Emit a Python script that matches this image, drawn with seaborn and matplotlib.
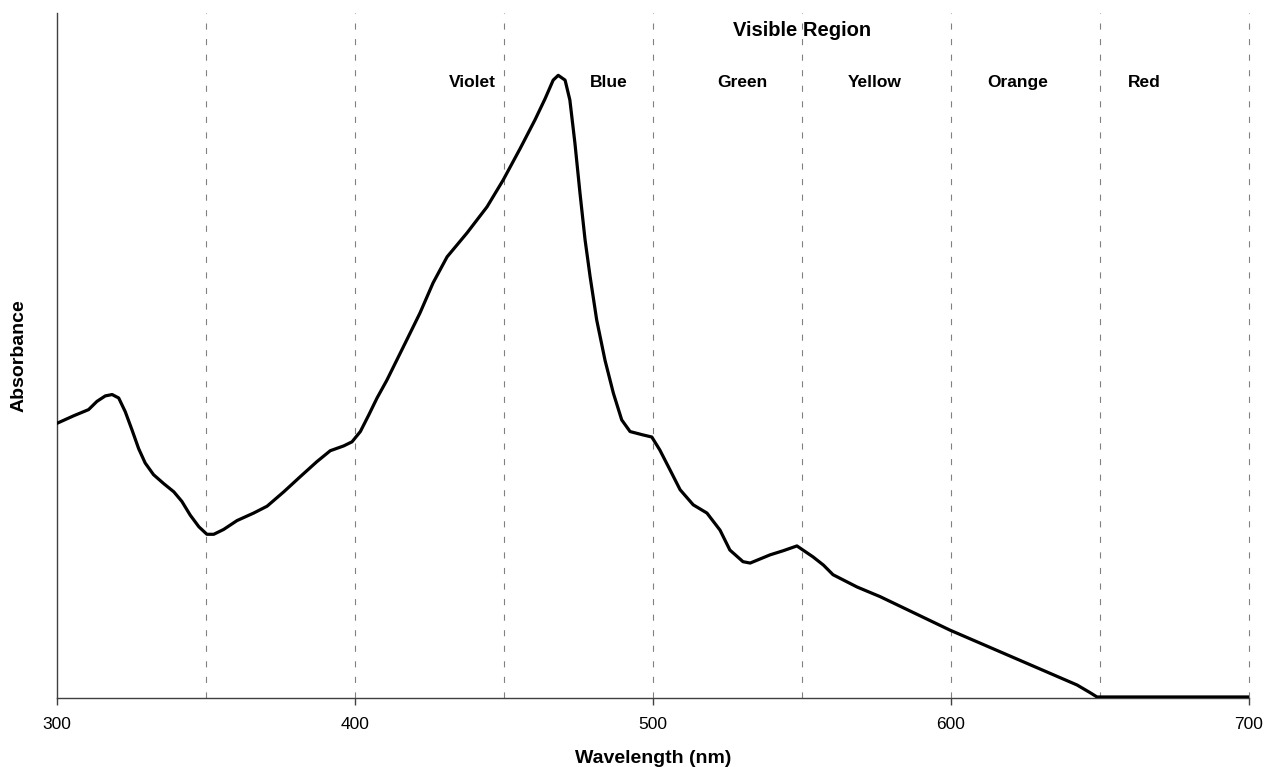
import matplotlib
matplotlib.use("Agg")
import matplotlib.pyplot as plt
import seaborn as sns
import pandas as pd

# Data (wavelength in nm, relative absorbance)
wavelength = [300.0, 305.6, 310.6, 313.4, 316.2, 318.5, 320.7, 322.9, 325.2, 327.4,
              329.6, 332.4, 335.8, 339.2, 341.9, 344.7, 347.6, 350.3, 352.6, 355.9,
              360.4, 366.0, 370.5, 376.1, 381.6, 387.2, 391.7, 396.2, 399.0, 401.8,
              404.6, 407.4, 410.7, 417.4, 421.8, 426.2, 430.9, 437.6, 444.3, 449.7,
              455.4, 460.4, 463.8, 466.5, 468.2, 470.5, 472.1, 473.8, 475.5, 477.2,
              478.9, 481.1, 483.9, 486.7, 489.5, 492.3, 496.7, 499.6, 502.3, 506.3,
              509.1, 513.5, 518.1, 522.5, 525.8, 530.2, 532.6, 539.3, 543.7, 548.3,
              553.7, 557.2, 560.4, 568.5, 576.2, 599.7, 642.3, 646.6, 649.0, 655.7,
              700.0]
absorbance = [0.401, 0.412, 0.421, 0.433, 0.441, 0.443, 0.438, 0.418, 0.391, 0.364,
              0.343, 0.326, 0.313, 0.301, 0.287, 0.267, 0.250, 0.239, 0.239, 0.246,
              0.259, 0.270, 0.280, 0.301, 0.323, 0.345, 0.361, 0.368, 0.374, 0.389,
              0.413, 0.438, 0.464, 0.523, 0.562, 0.606, 0.644, 0.679, 0.717, 0.756,
              0.802, 0.844, 0.875, 0.902, 0.909, 0.902, 0.873, 0.810, 0.737, 0.669,
              0.615, 0.552, 0.493, 0.445, 0.406, 0.389, 0.384, 0.381, 0.362, 0.328,
              0.304, 0.282, 0.270, 0.245, 0.216, 0.199, 0.197, 0.209, 0.215, 0.222,
              0.206, 0.194, 0.180, 0.162, 0.148, 0.099, 0.019, 0.008, 0.0015, 0.0015,
              0.0015]

boundaries = [350, 400, 450, 500, 550, 600, 650, 700]
xticks = [300, 400, 500, 600, 700]
color_names = ["Violet", "Blue", "Green", "Yellow", "Orange", "Red"]
color_name_x = [439.3, 485.0, 530.0, 574.5, 622.5, 664.8]
region_title = "Visible Region"

sns.set_theme(style="white")
plt.rcParams['font.family'] = ['Liberation Sans', 'DejaVu Sans']

fig = plt.figure(figsize=(12.64, 7.67), dpi=100)
ax = fig.add_axes([57/1264, 69/767, (1249-57)/1264, (698-13)/767])

df = pd.DataFrame({"Wavelength": wavelength, "Absorbance": absorbance})

for b in boundaries:
    ax.axvline(b, color="#808080", lw=0.8, linestyle=(0, (5.5, 8.5)), zorder=1,
               clip_on=False)

sns.lineplot(data=df, x="Wavelength", y="Absorbance", ax=ax, color="black",
             lw=2.3, sort=False, estimator=None, zorder=3,
             solid_joinstyle="round", solid_capstyle="round")

ax.set_xlim(300, 700)
ax.set_ylim(0, 1.0)
ax.set_xticks(xticks)
ax.set_xticklabels([str(t) for t in xticks], fontsize=12.5, color="black")
ax.set_yticks([])
ax.tick_params(axis="x", direction="out", length=5, width=1, color="#404040",
               bottom=True, pad=8.5, labelcolor="black")

for side in ["top", "right"]:
    ax.spines[side].set_visible(False)
for side in ["left", "bottom"]:
    ax.spines[side].set_color("#404040")
    ax.spines[side].set_linewidth(1.0)

ax.set_xlabel("Wavelength (nm)", fontsize=14, fontweight="bold", labelpad=13,
              color="black")
ax.set_ylabel("Absorbance", fontsize=14, fontweight="bold", labelpad=21,
              color="black")

ax.text(550, 0.975, region_title, ha="center", va="center", fontsize=14.5,
        fontweight="bold", color="black")
for name, xp in zip(color_names, color_name_x):
    ax.text(xp, 0.899, name, ha="center", va="center", fontsize=12.5,
            fontweight="bold", color="black")

fig.savefig("out.png", dpi=100)
